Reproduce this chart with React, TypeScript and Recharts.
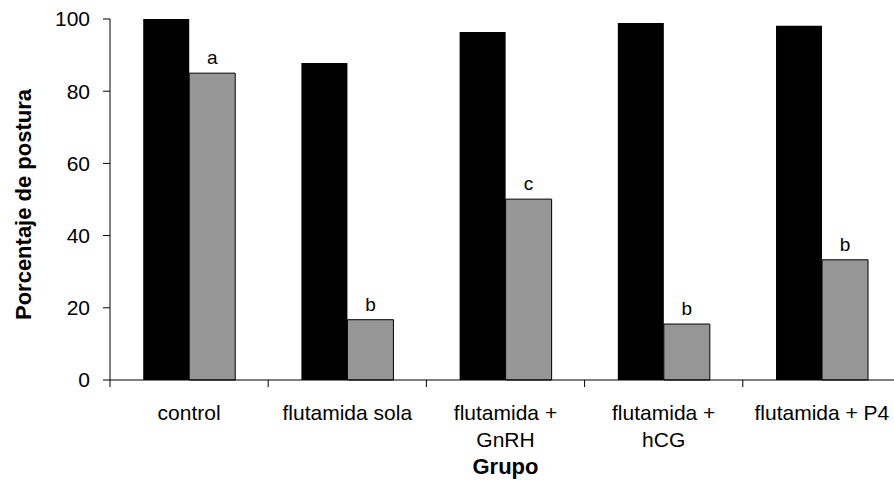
import { Bar, BarChart, LabelList, XAxis, YAxis } from "recharts";

const FONT = '"Liberation Sans", Arial, sans-serif';
const INK = "#000000";
const GREY = "#969696";

const categories = ["control", "flutamida sola", "flutamida +\nGnRH", "flutamida +\nhCG", "flutamida + P4"];
const serie1 = [100, 87.8, 96.4, 98.9, 98.1];
const serie2 = [85, 16.7, 50.1, 15.5, 33.3];
const letters = ["a", "b", "c", "b", "b"];
const yTicks = [0, 20, 40, 60, 80, 100];

const data = categories.map((grupo, i) => ({
  grupo,
  serie1: serie1[i],
  serie2: serie2[i],
  letra: letters[i],
}));

const WIDTH = 902;
const HEIGHT = 487;
const MARGIN = { top: 19, right: 1, left: 0, bottom: 0 };
const Y_AXIS_W = 110;
const X_AXIS_H = 107;
const STEP = (WIDTH - MARGIN.left - MARGIN.right - Y_AXIS_W) / categories.length;
const FS = 21;
const TITLE_FS = 22;

// category label plus a tick mark on the left edge of each group
function GroupTick({ x, y, payload }: any) {
  const lines = String(payload.value).split("\n");
  const left = x - STEP / 2;
  return (
    <g>
      <line x1={left} x2={left} y1={y} y2={y + 7} stroke={INK} />
      <text x={x} y={y + 40} textAnchor="middle" fill={INK} fontSize={FS} fontFamily={FONT}>
        {lines.map((line, i) => (
          <tspan key={i} x={x} dy={i === 0 ? 0 : 27}>
            {line}
          </tspan>
        ))}
      </text>
    </g>
  );
}

function YTitle({ viewBox }: any) {
  const cx = 23;
  const cy = viewBox.y + viewBox.height / 2 + 5;
  return (
    <text
      x={cx}
      y={cy}
      transform={`rotate(-90 ${cx} ${cy})`}
      textAnchor="middle"
      dominantBaseline="central"
      fontSize={TITLE_FS}
      fontWeight="bold"
      fontFamily={FONT}
      fill={INK}
    >
      Porcentaje de postura
    </text>
  );
}

function XTitle({ viewBox }: any) {
  return (
    <text
      x={viewBox.x + viewBox.width / 2}
      y={viewBox.y + 94}
      textAnchor="middle"
      fontSize={TITLE_FS}
      fontWeight="bold"
      fontFamily={FONT}
      fill={INK}
    >
      Grupo
    </text>
  );
}

export default function App() {
  return (
    <div style={{ position: "absolute", left: 0, top: 0, width: 894, height: HEIGHT, overflow: "hidden", background: "#fff" }}>
      <BarChart
        width={WIDTH}
        height={HEIGHT}
        data={data}
        margin={MARGIN}
        barCategoryGap="21%"
        barGap={0}
        style={{ fontFamily: FONT }}
      >
        <XAxis
          dataKey="grupo"
          height={X_AXIS_H}
          interval={0}
          tickLine={false}
          tickSize={0}
          tickMargin={0}
          axisLine={{ stroke: INK }}
          tick={<GroupTick />}
          label={(props: any) => <XTitle viewBox={props.viewBox} />}
        />
        <YAxis
          width={Y_AXIS_W}
          domain={[0, 100]}
          ticks={yTicks}
          interval={0}
          tickSize={7}
          tickMargin={13}
          axisLine={{ stroke: INK }}
          tickLine={{ stroke: INK }}
          tick={{ fill: INK, fontSize: FS, fontFamily: FONT }}
          label={(props: any) => <YTitle viewBox={props.viewBox} />}
        />
        <Bar dataKey="serie1" fill={INK} isAnimationActive={false} />
        <Bar dataKey="serie2" fill={GREY} stroke={INK} strokeWidth={1} isAnimationActive={false}>
          <LabelList dataKey="letra" position="top" offset={9} fill={INK} fontSize={19} fontFamily={FONT} />
        </Bar>
      </BarChart>
    </div>
  );
}
